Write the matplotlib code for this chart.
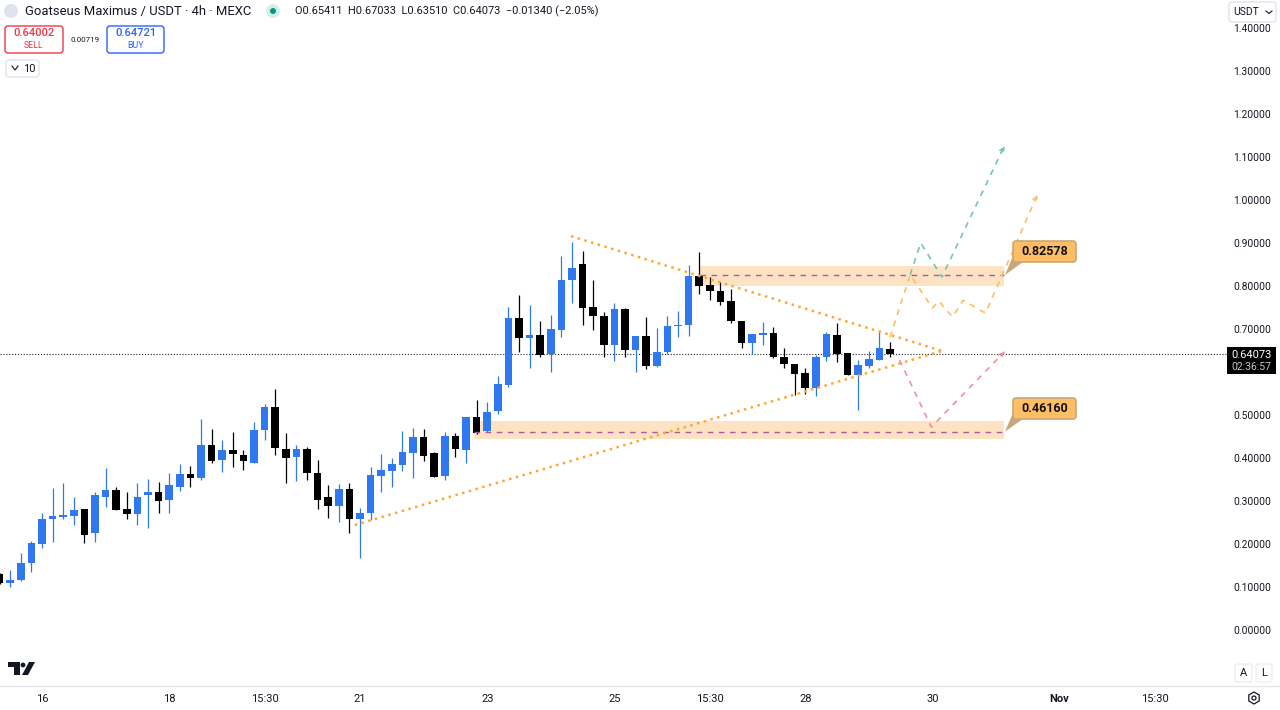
import matplotlib
matplotlib.use('Agg')
import numpy as np
from matplotlib import pyplot as plt
from matplotlib.patches import FancyBboxPatch, Polygon, Circle, RegularPolygon, Rectangle

plt.rcParams['font.family'] = ['Roboto', 'DejaVu Sans']

# -------------------- data ----------------------

# candles, oldest first, bar index 0 is the "21" tick
first_bar = -34
body_top = [0.1295, 0.116, 0.1565, 0.203, 0.259, 0.264, 0.267, 0.280, 0.281, 0.314, 0.326, 0.326, 0.282, 0.310, 0.320, 0.320, 0.338,
            0.363, 0.363, 0.430, 0.430, 0.419, 0.419, 0.406, 0.465, 0.519, 0.519, 0.420, 0.422, 0.422, 0.366, 0.309, 0.328, 0.329,
            0.273, 0.360, 0.372, 0.386, 0.414, 0.450, 0.450, 0.411, 0.452, 0.452, 0.496, 0.496, 0.508, 0.572, 0.726, 0.726, 0.685,
            0.685, 0.699, 0.815, 0.843, 0.851, 0.751, 0.731, 0.747, 0.747, 0.683, 0.683, 0.647, 0.707, 0.709, 0.823, 0.823, 0.802,
            0.789, 0.765, 0.719, 0.688, 0.691, 0.691, 0.635, 0.619, 0.598, 0.636, 0.688, 0.687, 0.645, 0.616, 0.630, 0.655, 0.65411]
body_bottom = [0.110, 0.109, 0.1156, 0.156, 0.201, 0.257, 0.263, 0.265, 0.222, 0.226, 0.309, 0.279, 0.269, 0.269, 0.313, 0.301, 0.302,
               0.333, 0.353, 0.353, 0.393, 0.395, 0.409, 0.393, 0.389, 0.465, 0.423, 0.401, 0.403, 0.365, 0.302, 0.288, 0.288, 0.257,
               0.257, 0.271, 0.358, 0.370, 0.384, 0.411, 0.405, 0.355, 0.359, 0.421, 0.419, 0.459, 0.462, 0.509, 0.570, 0.680, 0.680,
               0.640, 0.643, 0.698, 0.813, 0.750, 0.730, 0.663, 0.662, 0.652, 0.652, 0.615, 0.614, 0.646, 0.707, 0.709, 0.800, 0.788,
               0.763, 0.718, 0.668, 0.668, 0.685, 0.634, 0.618, 0.596, 0.562, 0.562, 0.634, 0.643, 0.594, 0.594, 0.614, 0.629, 0.64073]
highs = [0.133, 0.140, 0.179, 0.208, 0.272, 0.330, 0.342, 0.310, 0.281, 0.321, 0.377, 0.333, 0.320, 0.342, 0.351, 0.345, 0.366,
         0.386, 0.381, 0.490, 0.467, 0.443, 0.460, 0.419, 0.484, 0.526, 0.560, 0.457, 0.430, 0.425, 0.395, 0.337, 0.340, 0.341,
         0.284, 0.380, 0.409, 0.399, 0.463, 0.470, 0.467, 0.415, 0.460, 0.457, 0.496, 0.535, 0.530, 0.591, 0.752, 0.779, 0.756,
         0.719, 0.732, 0.870, 0.903, 0.882, 0.814, 0.739, 0.761, 0.750, 0.683, 0.729, 0.702, 0.730, 0.741, 0.850, 0.880, 0.821,
         0.810, 0.792, 0.719, 0.688, 0.717, 0.704, 0.655, 0.619, 0.609, 0.640, 0.694, 0.715, 0.645, 0.628, 0.649, 0.696, 0.67033]
lows = [0.108, 0.100, 0.114, 0.136, 0.191, 0.205, 0.258, 0.244, 0.203, 0.205, 0.286, 0.279, 0.257, 0.244, 0.238, 0.273, 0.273,
        0.323, 0.332, 0.349, 0.388, 0.368, 0.380, 0.372, 0.388, 0.443, 0.407, 0.341, 0.347, 0.349, 0.281, 0.260, 0.251, 0.226,
        0.167, 0.256, 0.322, 0.332, 0.370, 0.353, 0.394, 0.355, 0.350, 0.403, 0.389, 0.455, 0.460, 0.502, 0.564, 0.647, 0.610,
        0.634, 0.601, 0.681, 0.761, 0.709, 0.698, 0.634, 0.626, 0.636, 0.600, 0.607, 0.612, 0.643, 0.681, 0.684, 0.781, 0.767,
        0.756, 0.715, 0.655, 0.642, 0.663, 0.633, 0.609, 0.547, 0.550, 0.544, 0.626, 0.624, 0.593, 0.512, 0.609, 0.628, 0.63510]
is_up = [0, 1, 1, 1, 1, 1, 1, 1, 0, 1, 1, 0, 0, 1, 1, 0, 1,
         1, 0, 1, 0, 1, 0, 0, 1, 1, 0, 0, 1, 0, 0, 0, 1, 0,
         1, 1, 1, 1, 1, 1, 0, 0, 1, 0, 1, 0, 1, 1, 1, 0, 1,
         0, 1, 1, 1, 0, 0, 0, 1, 0, 1, 0, 1, 1, 1, 1, 0, 0,
         0, 0, 0, 1, 1, 0, 0, 0, 0, 1, 1, 0, 0, 1, 1, 1, 0]

# 0.60000 sits behind the last price tag
y_ticks = [0.0, 0.1, 0.2, 0.3, 0.4, 0.5, 0.7, 0.8, 0.9, 1.0, 1.1, 1.2, 1.3, 1.4]
x_ticks = [-30, -18, -9, 0, 12, 24, 33, 42, 54, 66, 75]
x_labels = ['16', '18', '15:30', '21', '23', '25', '15:30', '28', '30', 'Nov', '15:30']

last_price = 0.64073

# drawings
upper_trend_x = [19.9, 54.9]
upper_trend_y = [0.916, 0.649]
lower_trend_x = [-0.5, 54.9]
lower_trend_y = [0.244, 0.649]

resistance = 0.82578
resistance_zone = [0.800, 0.847]
resistance_x = [32.1, 60.8]
support = 0.46160
support_zone = [0.445, 0.487]
support_x = [10.8, 60.8]

orange_x = [50.0, 51.9, 54.0, 54.6, 55.9, 56.9, 59.0, 60.8, 63.9]
orange_y = [0.681, 0.826, 0.749, 0.765, 0.728, 0.767, 0.737, 0.837, 1.012]
green_x = [51.9, 52.9, 54.9, 60.8]
green_y = [0.826, 0.900, 0.821, 1.126]
red_x = [50.9, 53.9, 60.8]
red_y = [0.628, 0.472, 0.647]

BLUE = '#2f78f0'
BLACK = '#000000'
TEXT = '#131722'

# -------------------- chart ----------------------

fig = plt.figure(figsize=(12.8, 7.1), dpi=100, facecolor='white')
ax = fig.add_axes([0, 24 / 710, 1228 / 1280, 686 / 710])
ax.set_xlim(-360 / 10.6, (1228 - 360) / 10.6)
ax.set_ylim((630 - 686) / 430, 630 / 430)

for s in ax.spines.values():
    s.set_visible(False)

bars = first_bar + np.arange(len(body_top))
top = np.array(body_top)
bottom = np.array(body_bottom)
colors = [BLUE if u else BLACK for u in is_up]
ax.vlines(bars, lows, highs, colors=colors, lw=0.9, zorder=3)
ax.bar(bars, top - bottom, bottom=bottom, width=0.72, color=colors, lw=0, zorder=4)

ax.axhline(last_price, color='#222222', lw=0.8, ls=(0, (1, 1.6)), zorder=2)

# zones
zone_color = '#fde2c4'
line_color = '#b0589c'
ax.fill_between(resistance_x, *resistance_zone, color=zone_color, lw=0, zorder=1)
ax.fill_between(support_x, *support_zone, color=zone_color, lw=0, zorder=1)
ax.plot(resistance_x, [resistance, resistance], color=line_color, lw=1, ls=(0, (4, 4)), zorder=5)
ax.plot(support_x, [support, support], color=line_color, lw=1, ls=(0, (4, 4)), zorder=5)

# triangle
for xs, ys in [(upper_trend_x, upper_trend_y), (lower_trend_x, lower_trend_y)]:
    ax.plot(xs, ys, color='#ffa733', lw=1.8, ls=(0, (1, 1.8)), zorder=5)


# dashed scenario path with an open arrow head
def scenario(xs, ys, color):
    ax.plot(xs, ys, color=color, lw=1.2, ls=(0, (3.5, 3.5)), zorder=6)
    tail = (xs[-1] - 0.05 * (xs[-1] - xs[-2]), ys[-1] - 0.05 * (ys[-1] - ys[-2]))
    ax.annotate('', xy=(xs[-1], ys[-1]), xytext=tail, zorder=6,
                arrowprops=dict(arrowstyle='->', color=color, lw=1.1, ls=(0, (2, 1.5)),
                                mutation_scale=8, shrinkA=0, shrinkB=0))


scenario(orange_x, orange_y, '#ffbd66')
scenario(green_x, green_y, '#70c7ad')
scenario(red_x, red_y, '#f58ea0')

# scales
ax.yaxis.tick_right()
ax.set_yticks(y_ticks)
ax.set_yticklabels(['%.5f' % v for v in y_ticks], fontsize=7.4, color=TEXT)
ax.set_xticks(x_ticks)
ax.set_xticklabels(x_labels, fontsize=8, color=TEXT)
ax.get_xticklabels()[9].set_fontweight('bold')
ax.tick_params(axis='y', length=0, pad=4)
ax.tick_params(axis='x', length=0, pad=6)

# -------------------- overlay, in screen pixels ---------------------

ui = fig.add_axes([0, 0, 1, 1], facecolor='none')
ui.set_xlim(0, 1280)
ui.set_ylim(710, 0)
ui.axis('off')

ui.plot([0, 1280], [686, 686], color='#e4e6eb', lw=1)


def rbox(x0, y0, x1, y1, edge, face='white', lw=1.0, rad=3, z=10):
    ui.add_patch(FancyBboxPatch((x0, y0), x1 - x0, y1 - y0, boxstyle='round,pad=0,rounding_size=%g' % rad,
                                fc=face, ec=edge, lw=lw, zorder=z))


# legend line
ui.add_patch(Circle((11, 11), 7, fc='#dfe3ee', ec='none'))
ui.text(25, 11, 'Goatseus Maximus / USDT · 4h · MEXC', fontsize=9.4, color=TEXT, va='center')
ui.add_patch(Circle((273, 11), 7, fc='#d5efe8', ec='none'))
ui.add_patch(Circle((273, 11), 3, fc='#089981', ec='none'))
ui.text(295, 11, 'O0.65411  H0.67033  L0.63510  C0.64073  −0.01340 (−2.05%)', fontsize=7.95, color=TEXT, va='center')

# buy and sell
rbox(5, 26, 63, 53, '#f23645')
ui.text(34, 33, '0.64002', fontsize=8, color='#f23645', ha='center', va='center', fontweight='medium', zorder=11)
ui.text(34, 46, 'SELL', fontsize=6.3, color='#f23645', ha='center', va='center', zorder=11)
ui.text(85, 40, '0.00719', fontsize=5.8, color=TEXT, ha='center', va='center')
rbox(107, 26, 164, 53, '#2962ff')
ui.text(135.5, 33, '0.64721', fontsize=8, color='#2962ff', ha='center', va='center', fontweight='medium', zorder=11)
ui.text(135.5, 46, 'BUY', fontsize=6.3, color='#2962ff', ha='center', va='center', zorder=11)

# quantity box
rbox(6, 60, 39, 77, '#e0e3eb')
ui.plot([12, 15, 18], [66, 70, 66], color=TEXT, lw=0.8, zorder=11)
ui.text(23, 68.5, '10', fontsize=8, color=TEXT, va='center', zorder=11)

# currency box
rbox(1229, 2, 1276, 22, '#e0e3eb')
ui.text(1233, 12, 'USDT', fontsize=7.5, color=TEXT, va='center', zorder=11)
ui.plot([1266, 1269, 1272], [11, 13.5, 11], color=TEXT, lw=0.8, zorder=11)

# last price tag
ui.add_patch(Rectangle((1227, 347), 49, 27, fc='black', ec='none', zorder=10))
ui.text(1251.5, 354.5, '0.64073', fontsize=8, color='white', ha='center', va='center', zorder=11)
ui.text(1251.5, 367, '02:36:57', fontsize=7.5, color='#c8c8c8', ha='center', va='center', zorder=11)

# callouts
for label, y0, tip in [('0.82578', 241, 275), ('0.46160', 398, 431.5)]:
    ui.add_patch(Polygon([(1005, tip), (1013, y0 + 15), (1023, y0 + 21)], fc='#c8a878', ec='none', zorder=9))
    rbox(1013, y0, 1076, y0 + 21, '#c8a878', face='#ffbd66', lw=1.2, rad=3)
    ui.text(1044.5, y0 + 10.5, label, fontsize=9, fontweight='bold', color='#111111', ha='center', va='center', zorder=11)

# logo
ui.add_patch(Polygon([(8, 662), (20, 662), (20, 675), (14, 675), (14, 667), (8, 667)], fc=TEXT, ec='none'))
ui.add_patch(Circle((23, 665), 2.4, fc=TEXT, ec='none'))
ui.add_patch(Polygon([(29, 662), (35, 662), (28, 675), (22, 675)], fc=TEXT, ec='none'))

# A and L buttons, settings
rbox(1235, 664, 1252, 682, '#eceef2', rad=2)
rbox(1256, 664, 1272, 682, '#eceef2', rad=2)
ui.text(1243.5, 673, 'A', fontsize=8, color=TEXT, ha='center', va='center', zorder=11)
ui.text(1264, 673, 'L', fontsize=8, color=TEXT, ha='center', va='center', zorder=11)
ui.add_patch(RegularPolygon((1254, 698), 6, radius=6, fc='none', ec=TEXT, lw=0.9))
ui.add_patch(Circle((1254, 698), 2, fc='none', ec=TEXT, lw=0.9))

fig.savefig('out.png', dpi=100)
